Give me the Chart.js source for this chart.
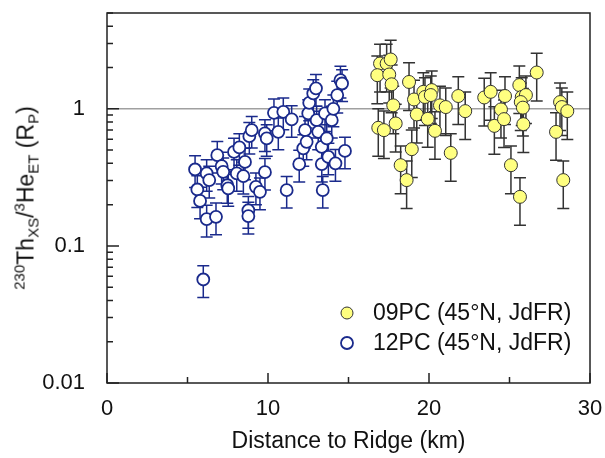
<!DOCTYPE html>
<html>
<head>
<meta charset="utf-8">
<script src="https://cdn.jsdelivr.net/npm/chart.js@4"></script>
<style>
  html, body { margin: 0; padding: 0; background: #fff; }
  #wrap { position: relative; width: 605px; height: 458px; }
  #yTitle {
    position: absolute; left: 26px; top: 198px;
    transform: translate(-50%, -50%) rotate(-90deg);
    font-family: 'Liberation Sans', Arial, sans-serif; font-size: 23px; color: #111;
    white-space: nowrap; line-height: 1;
  }
  #yTitle sup, #yTitle sub { font-size: 15px; line-height: 0; }
  #yTitle sup { vertical-align: 9px; }
  #yTitle sub { vertical-align: -5px; }
</style>
</head>
<body>
<div id="wrap">
  <canvas id="c" width="605" height="458"></canvas>
  <div id="yTitle"><sup>230</sup>Th<sub>XS</sub>/<sup>3</sup>He<sub>ET</sub> (R<sub>P</sub>)</div>
</div>
<script>
// 09PC (yellow) — distance (km) and ratio
const pc09X = [16.96, 17.37, 17.62, 16.79, 17.53, 17.68, 17.78, 16.85, 17.20, 17.93,
  18.76, 19.07, 19.24, 18.93, 18.24, 18.61, 19.65, 19.75, 20.17, 20.11,
  19.92, 20.37, 20.68, 21.04, 21.35, 21.82, 22.25, 23.43, 23.83, 24.06,
  24.47, 24.72, 24.66, 25.09, 25.61, 25.76, 26.02, 25.70, 25.83, 25.86,
  25.65, 26.69, 27.89, 28.14, 28.25, 28.59, 28.34];
const pc09Y = [2.14, 2.14, 2.29, 1.76, 1.78, 1.51, 1.06, 0.727, 0.699, 0.782,
  1.57, 1.17, 0.910, 0.508, 0.388, 0.302, 1.33, 1.22, 1.37, 1.26,
  0.845, 0.691, 1.06, 1.03, 0.477, 1.24, 0.962, 1.21, 1.33, 0.751,
  0.99, 1.24, 0.841, 0.388, 1.49, 1.22, 1.26, 1.12, 1.02, 0.773,
  0.228, 1.84, 0.679, 1.12, 1.03, 0.962, 0.302];
const pc09RelErr = 0.38;

// 12PC (open blue)
const pc12X = [5.47, 6.19, 5.61, 5.78, 6.19, 6.77, 5.98, 6.35, 6.85, 7.12,
  7.22, 7.47, 7.53, 7.89, 8.06, 8.22, 8.47, 8.57, 8.84, 8.99,
  8.78, 8.78, 9.25, 9.50, 9.81, 9.92, 9.81, 10.37, 10.64, 10.95,
  11.16, 11.47, 11.94, 12.19, 12.30, 12.40, 12.50, 12.56, 12.81, 12.98,
  13.02, 13.12, 13.34, 13.34, 13.40, 13.54, 13.65, 13.75, 13.96, 14.06,
  14.19, 14.30, 14.50, 14.60, 14.78];
const pc12Y = [0.361, 0.338, 0.258, 0.213, 0.157, 0.163, 0.0569, 0.302, 0.459, 0.382,
  0.347, 0.277, 0.263, 0.485, 0.338, 0.523, 0.323, 0.410, 0.632, 0.699,
  0.182, 0.165, 0.270, 0.248, 0.661, 0.608, 0.345, 0.935, 0.679, 0.951,
  0.255, 0.837, 0.395, 0.514, 0.699, 0.574, 0.925, 1.106, 1.295, 1.41,
  0.827, 0.679, 0.528, 0.395, 0.255, 0.925, 0.608, 0.446, 0.827, 1.0,
  0.400, 1.26, 1.62, 1.53, 0.493];
const pc12RelErr = 0.26;

const xMajorTicks = [0, 10, 20, 30];
const xMinorTicks = [5, 15, 25];
const yMajorTicks = [0.01, 0.1, 1];
const yMinorTicks = [0.02, 0.03, 0.04, 0.05, 0.06, 0.07, 0.08, 0.09,
  0.2, 0.3, 0.4, 0.5, 0.6, 0.7, 0.8, 0.9, 2, 3, 4, 5];
const refLine = 1;

const labels = ['09PC (45°N, JdFR)', '12PC (45°N, JdFR)'];
const FONT = "'Liberation Sans', Arial, sans-serif";
const INK = '#222';
const BLUE = '#1a2a8c';
const YELLOW = '#ffff80';

Chart.defaults.font.family = FONT;

const toPts = (xs, ys) => xs.map((x, i) => ({ x, y: ys[i] }));

// error bars, reference line, frame, tick marks and legend
const decor = {
  id: 'decor',
  beforeDatasetsDraw(chart) {
    const { ctx, chartArea: a, scales: { y } } = chart;
    ctx.save();
    // grey line at ratio = 1
    ctx.strokeStyle = '#a0a0a0';
    ctx.lineWidth = 1.5;
    const py = y.getPixelForValue(refLine);
    ctx.beginPath(); ctx.moveTo(a.left, py); ctx.lineTo(a.right, py); ctx.stroke();

    // error bars
    chart.data.datasets.forEach((ds, di) => {
      const meta = chart.getDatasetMeta(di);
      ctx.strokeStyle = ds.errColor;
      ctx.lineWidth = 1.5;
      meta.data.forEach((el, i) => {
        const v = ds.data[i].y;
        const top = y.getPixelForValue(v * (1 + ds.relErr));
        const bot = y.getPixelForValue(v * (1 - ds.relErr));
        ctx.beginPath();
        ctx.moveTo(el.x, top); ctx.lineTo(el.x, bot);
        ctx.moveTo(el.x - 6, top); ctx.lineTo(el.x + 6, top);
        ctx.moveTo(el.x - 6, bot); ctx.lineTo(el.x + 6, bot);
        ctx.stroke();
      });
    });
    ctx.restore();
  },
  afterDraw(chart) {
    const { ctx, chartArea: a, scales: { x, y } } = chart;
    ctx.save();
    ctx.strokeStyle = INK;
    ctx.lineWidth = 1.5;
    ctx.strokeRect(a.left, a.top, a.right - a.left, a.bottom - a.top);
    ctx.beginPath();
    yMajorTicks.forEach(v => { const p = y.getPixelForValue(v); ctx.moveTo(a.left, p); ctx.lineTo(a.left + 12, p); });
    yMinorTicks.forEach(v => { const p = y.getPixelForValue(v); ctx.moveTo(a.left, p); ctx.lineTo(a.left + 6, p); });
    xMajorTicks.forEach(v => { const p = x.getPixelForValue(v); ctx.moveTo(p, a.bottom); ctx.lineTo(p, a.bottom - 10); });
    xMinorTicks.forEach(v => { const p = x.getPixelForValue(v); ctx.moveTo(p, a.bottom); ctx.lineTo(p, a.bottom - 6); });
    ctx.stroke();

    // legend, bottom right inside the plot
    const lx = a.right - 243, ly = a.bottom - 70;
    chart.data.datasets.forEach((ds, i) => {
      const cy = ly + i * 30;
      ctx.beginPath();
      ctx.arc(lx, cy, 6, 0, Math.PI * 2);
      ctx.fillStyle = ds.backgroundColor;
      ctx.fill();
      ctx.lineWidth = ds.borderWidth;
      ctx.strokeStyle = ds.borderColor;
      ctx.stroke();
      ctx.fillStyle = '#111';
      ctx.font = '23px ' + FONT;
      ctx.textBaseline = 'middle';
      ctx.textAlign = 'left';
      ctx.fillText(ds.label, lx + 26, cy + 1);
    });
    ctx.restore();
  }
};

new Chart(document.getElementById('c'), {
  type: 'scatter',
  data: {
    datasets: [
      {
        label: labels[0],
        data: toPts(pc09X, pc09Y),
        relErr: pc09RelErr,
        errColor: '#333',
        backgroundColor: YELLOW,
        borderColor: '#333',
        borderWidth: 1,
        pointRadius: 6.5,
        pointHoverRadius: 6.5,
      },
      {
        label: labels[1],
        data: toPts(pc12X, pc12Y),
        relErr: pc12RelErr,
        errColor: BLUE,
        backgroundColor: '#fff',
        borderColor: BLUE,
        borderWidth: 1.8,
        pointRadius: 6,
        pointHoverRadius: 6,
      },
    ],
  },
  options: {
    responsive: false,
    animation: false,
    events: [],
    layout: { padding: { top: 13, right: 15, left: 0, bottom: 0 } },
    plugins: { legend: { display: false }, tooltip: { enabled: false } },
    scales: {
      x: {
        type: 'linear',
        min: 0, max: 30,
        afterFit: s => { s.height = 75; s.paddingLeft = 0; s.paddingRight = 0; },
        afterBuildTicks: s => { s.ticks = xMajorTicks.map(v => ({ value: v })); },
        grid: { display: false },
        border: { display: false },
        ticks: { color: '#111', font: { size: 22 }, padding: 5, maxRotation: 0 },
        title: {
          display: true, text: 'Distance to Ridge (km)', color: '#111',
          font: { size: 23 }, padding: { top: 0, bottom: 3 },
        },
      },
      y: {
        type: 'logarithmic',
        min: 0.01, max: 5,
        afterFit: s => { s.width = 107; s.paddingTop = 0; s.paddingBottom = 0; },
        afterBuildTicks: s => { s.ticks = yMajorTicks.map(v => ({ value: v })); },
        grid: { display: false },
        border: { display: false },
        ticks: {
          color: '#111', font: { size: 22 }, padding: 14,
          callback: v => String(v),
        },
      },
    },
  },
  plugins: [decor],
});
</script>
</body>
</html>
